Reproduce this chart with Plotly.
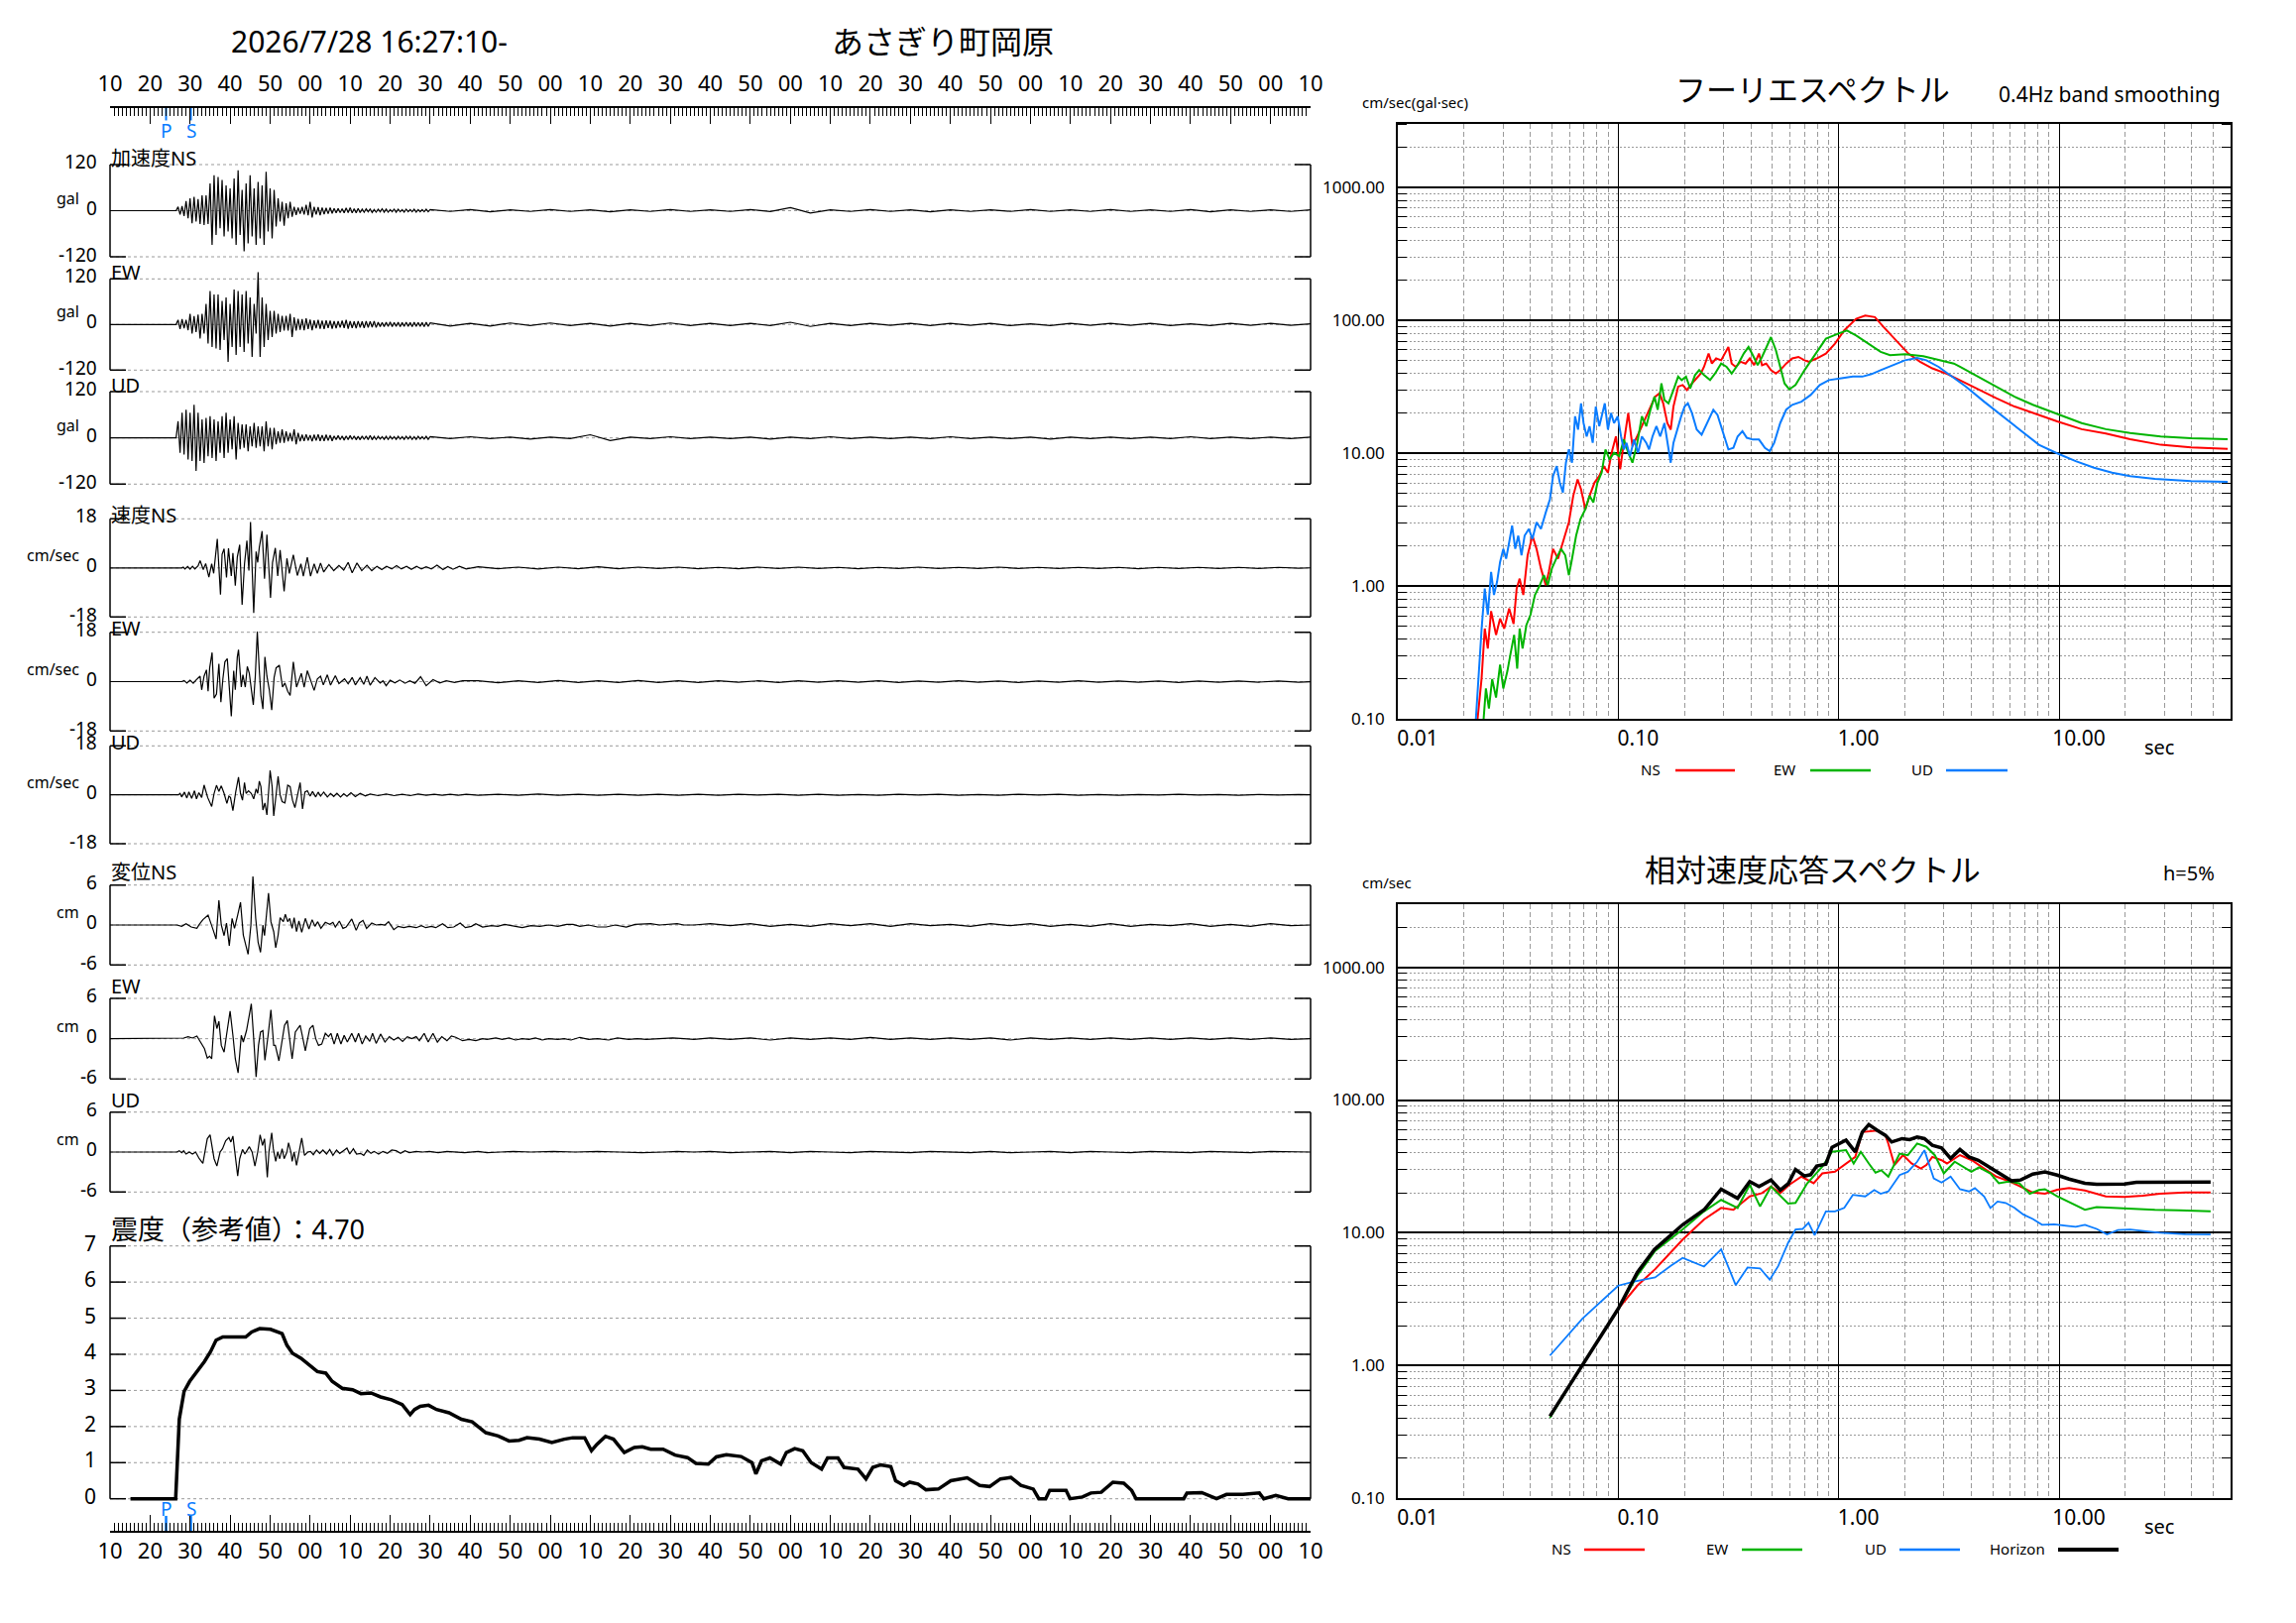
import plotly.graph_objects as go

W, H = 2316, 1637
FONT = "Noto Sans, Noto Sans CJK JP, sans-serif"

# ------------------------------------------------------------------ data
TITLE_TIME = "2026/7/28 16:27:10-"
STATION = "あさぎり町岡原"
START_SECOND = 10          # record starts at 16:27:10
RECORD_LENGTH = 300        # seconds shown
P_TIME = 14.0
S_TIME = 20.2
INTENSITY_VALUE = 4.70

# acceleration (gal): per-second positive / negative peaks from t = ACC_T0
ACC_T0 = 17
ACC_NS_HI = [10, 12, 25, 32, 36, 30, 40, 40, 71, 92, 88, 80, 66, 58, 84, 105, 54, 71, 92, 58, 75, 66, 101, 58, 54,
             32, 23, 19, 23, 10, 8, 10, 15, 23, 10, 9, 8, 7, 8, 6, 6, 5, 7, 8, 5, 6,
             4, 5, 4, 3, 4, 5, 4, 3, 4, 4, 3, 4, 3, 4, 3, 3, 4]
ACC_NS_LO = [-10, -14, -20, -33, -28, -35, -37, -35, -89, -63, -46, -67, -54, -72, -89, -63, -106, -85, -67, -89, -72,
             -89, -54, -72, -41, -28, -39, -20, -16, -11, -8, -10, -12, -18, -10, -12, -9, -8, -7, -6, -5, -6, -5, -6,
             -6, -5, -4, -3, -5, -4, -3, -4, -4, -3, -4, -3, -4, -3, -3, -4, -3, -3, -3]
ACC_EW_HI = [12, 14, 12, 28, 22, 26, 28, 54, 88, 79, 79, 62, 71, 54, 92, 88, 79, 88, 71, 54, 138, 71, 54, 36, 36,
             28, 23, 23, 28, 19, 15, 14, 16, 13, 11, 12, 10, 11, 10, 9, 9, 10, 12, 9, 8, 9, 8, 9, 8, 9,
             6, 5, 6, 7, 5, 6, 5, 6, 5, 6, 5, 5, 6]
ACC_EW_LO = [-12, -10, -15, -24, -20, -37, -24, -50, -59, -63, -67, -41, -98, -59, -80, -59, -72, -50, -85, -24, -85,
             -59, -41, -33, -24, -20, -16, -16, -33, -16, -14, -15, -12, -15, -10, -11, -12, -9, -11, -10, -8, -9,
             -11, -9, -10, -8, -9, -8, -7, -8, -6, -6, -5, -6, -5, -6, -5, -5, -6, -5, -5, -6, -5]
ACC_UD_HI = [43, 65, 73, 65, 86, 65, 48, 52, 56, 48, 43, 56, 65, 48, 56, 39, 35, 35, 30, 39, 30, 30, 43, 26, 26,
             17, 22, 17, 13, 22, 13, 8, 9, 7, 8, 9, 7, 8, 7, 5, 6, 5, 5, 6, 5, 4, 5, 5, 6,
             4, 4, 3, 4, 4, 3, 4, 3, 4, 4, 3, 4, 3, 4]
ACC_UD_LO = [-39, -43, -56, -60, -86, -60, -65, -48, -52, -60, -39, -52, -39, -30, -56, -30, -26, -35, -22, -26, -22,
             -35, -22, -30, -17, -13, -13, -9, -9, -17, -9, -8, -7, -9, -7, -8, -8, -7, -8, -5, -5, -6, -5, -4, -5,
             -5, -4, -5, -5, -4, -3, -4, -4, -3, -4, -3, -4, -3, -4, -4, -3, -3, -4]
# tail samples every 5 s from t = 80
ACC_TAIL_T0, ACC_TAIL_STEP = 80, 5
ACC_NS_TAIL = [3, -2, 3, -3, 2, -2, 3, -2, 2, -3, 2, -2, 3, -2, 2, -2, 3, -2, 8, -6, 2, -2, 3, -2, 2,
               -3, 2, -2, 2, -2, 3, -2, 2, -2, 3, -2, 2, -2, 3, -3, 2, -2, 2, -2, 2]
ACC_EW_TAIL = [4, -4, 3, -4, 4, -3, 4, -3, 3, -4, 3, -3, 4, -3, 3, -3, 3, -3, 6, -5, 3, -3, 3, -2, 3,
               -3, 3, -2, 3, -3, 2, -3, 3, -2, 3, -2, 3, -3, 2, -3, 3, -2, 3, -2, 2]
ACC_UD_TAIL = [3, -2, 3, -2, 2, -3, 2, -2, 8, -7, 2, -2, 3, -2, 2, -2, 2, -3, 2, -2, 3, -2, 2, -2, 2,
               -2, 3, -2, 2, -2, 2, -3, 2, -2, 2, -2, 2, -2, 3, -2, 2, -2, 2, -2, 2]

# velocity (cm/sec): (time, value) turning points, then tail every 5 s from t = 92
VEL_NS = [(0, 0), (17.9, 0), (18.3, 0.3), (18.7, -0.4), (19.4, 0.5), (20.0, -0.5), (20.6, 0.6), (21.2, -0.4),
          (22.0, 0.8), (22.5, 2.7), (23.3, -0.6), (23.9, 1.6), (24.7, -3.4), (25.4, 1.5), (25.9, -2.0),
          (26.8, 10.6), (27.6, -9.8), (28.0, 5.0), (28.5, 7.0), (29.1, -3.5), (29.6, 7.2), (30.3, -3.0),
          (30.7, 5.5), (31.3, -6.5), (31.8, 4.0), (32.4, 8.5), (33.0, -13.5), (33.6, 1.5), (34.2, 10.0),
          (34.7, -1.0), (35.1, 16.8), (35.9, -16.5), (36.5, 6.0), (36.9, 2.0), (37.3, 7.5), (38.0, 13.5),
          (38.6, -4.0), (39.2, 12.2), (40.1, -11.0), (40.6, 2.0), (41.3, 7.3), (41.9, -3.0), (42.5, 6.5),
          (43.5, -8.6), (44.2, 3.5), (44.8, -2.0), (45.8, 4.8), (46.8, -2.8), (47.7, 1.5), (48.3, -3.0),
          (49.3, 3.9), (50.1, -3.0), (51.0, 1.5), (51.8, -2.0), (52.6, 1.8), (53.4, -1.5), (54.7, 1.2),
          (55.9, -1.0), (57.2, 0.9), (58.4, -0.8), (59.5, 2.0), (60.5, -1.8), (61.7, 1.8), (62.9, -1.0),
          (64.2, 1.0), (65.4, -1.0), (66.7, 0.6), (67.9, -0.6), (69.1, 0.6), (70.4, -0.4), (71.6, 0.8),
          (72.8, -0.4), (74.1, 0.6), (75.3, -0.5), (76.6, 0.6), (77.8, -0.4), (79.0, 0.4), (80.3, -0.4),
          (81.7, 1.0), (83.2, -0.6), (84.4, 0.5), (85.7, -0.5), (87.3, 0.6), (89.0, -0.4)]
VEL_EW = [(0, 0), (17.9, 0), (18.5, 0.4), (19.2, -0.5), (20.0, 0.5), (20.8, -0.6), (21.5, 0.6), (22.5, 2.0),
          (22.9, -3.0), (23.5, 2.0), (24.1, 4.3), (24.5, -3.5), (24.9, 5.0), (25.5, 10.6), (26.0, -6.0),
          (26.6, -4.5), (27.2, 6.5), (27.7, -7.5), (28.2, 1.0), (28.7, 7.2), (29.3, 8.4), (29.9, -4.0),
          (30.3, -12.6), (30.9, 4.0), (31.3, -3.0), (31.8, 9.0), (32.1, 11.6), (32.8, -2.0), (33.2, 2.5),
          (33.8, -2.0), (34.3, 5.5), (34.8, 3.0), (35.3, -3.0), (35.8, -8.5), (36.3, 2.0), (36.8, 18.2),
          (37.3, 4.0), (37.7, -5.0), (38.2, -10.0), (38.7, 9.0), (39.2, 2.0), (39.8, -3.0), (40.4, -10.4),
          (41.0, 1.5), (41.5, 5.0), (42.3, 6.0), (43.1, -2.0), (43.7, -0.5), (44.4, -3.5), (45.0, -5.0),
          (45.8, 7.2), (46.6, -2.0), (47.8, 3.0), (48.5, -2.0), (49.3, 4.0), (51.0, -3.2), (51.8, 1.0),
          (52.6, 2.0), (53.3, -1.2), (54.3, 2.5), (55.1, -1.3), (56.3, 2.2), (57.2, -0.7), (58.6, 1.0),
          (59.5, -0.8), (60.5, 1.5), (61.3, -1.2), (62.5, 1.5), (63.4, -1.0), (64.2, 2.0), (65.0, -1.3),
          (66.2, 1.5), (67.5, -0.5), (68.2, 0.3), (69.0, -1.5), (70.0, 0.5), (71.2, -0.5), (72.4, 0.6),
          (73.7, -0.6), (74.9, 0.3), (76.2, -0.6), (77.6, 1.8), (79.0, -1.5), (80.7, 0.7), (82.4, -0.5),
          (84.0, 0.3), (86.1, -0.3), (88.1, 0.3)]
VEL_UD = [(0, 0), (17.1, 0), (17.5, 0.5), (17.9, -0.8), (18.6, 1.0), (19.2, -1.2), (19.7, 1.1), (20.4, -1.3),
          (21.1, 1.5), (21.6, -1.5), (22.2, 0.8), (22.9, -1.0), (23.5, 3.6), (24.4, -1.0), (25.4, -4.3),
          (26.0, 0.5), (26.6, 3.5), (27.2, 1.2), (27.8, 3.3), (28.5, 0.5), (29.2, -3.2), (29.7, -0.5),
          (30.1, -1.0), (30.7, -5.8), (31.4, 1.0), (32.1, 6.5), (32.6, 0.5), (33.1, -2.0), (33.6, 4.5),
          (34.0, 0.5), (34.6, 1.5), (35.3, 0.5), (35.9, -1.5), (36.5, 2.2), (36.9, 0.5), (37.3, 5.0),
          (37.7, 3.0), (38.2, -5.6), (38.7, -3.0), (39.2, -7.4), (40.0, 9.0), (40.5, 3.0), (40.9, -7.8),
          (41.5, 0.0), (42.0, 6.8), (42.5, 0.0), (43.0, -2.5), (43.7, -3.0), (44.4, 3.5), (45.0, 3.0),
          (45.6, -2.0), (46.2, -4.7), (46.8, 0.2), (47.5, 4.5), (48.1, -5.2), (48.7, 1.0), (49.3, 1.5),
          (50.0, -0.5), (50.6, 1.2), (51.4, -0.8), (52.0, 1.0), (52.6, -0.5), (53.4, 1.0), (54.3, -0.8),
          (55.1, 0.5), (55.9, -0.6), (56.7, 0.6), (57.6, -0.8), (58.4, 0.4), (59.2, -0.6), (60.2, 0.8),
          (61.3, -0.7), (62.5, 0.5), (63.8, -0.4), (65.0, 0.3), (67, -0.3), (69, 0.3), (71, -0.3), (73, 0.2),
          (75, -0.3), (77, 0.3), (79, -0.2), (81, 0.2), (83, -0.2), (85, 0.2), (87, -0.2), (89, 0.2)]
VEL_TAIL_T0, VEL_TAIL_STEP = 92, 5
VEL_NS_TAIL = [0.4, -0.3, 0.3, -0.4, 0.3, -0.3, 0.4, -0.3, 0.3, -0.2, 0.3, -0.3, 0.2, -0.3, 0.3, -0.2, 0.3, -0.2,
               0.2, -0.3, 0.2, -0.2, 0.3, -0.2, 0.2, -0.2, 0.3, -0.2, 0.2, -0.2, 0.2, -0.2, 0.2, -0.3, 0.2, -0.2,
               0.2, -0.2, 0.2, -0.2, 0.2, -0.1, 0.1]
VEL_EW_TAIL = [0.3, -0.4, 0.3, -0.3, 0.4, -0.3, 0.3, -0.3, 0.4, -0.3, 0.3, -0.3, 0.3, -0.2, 0.3, -0.3, 0.3, -0.2,
               0.3, -0.2, 0.3, -0.3, 0.2, -0.2, 0.3, -0.2, 0.2, -0.3, 0.2, -0.2, 0.3, -0.2, 0.2, -0.2, 0.2, -0.3,
               0.2, -0.2, 0.2, -0.2, 0.2, -0.2, 0.1]
VEL_UD_TAIL = [-0.2, 0.2, -0.2, 0.3, -0.2, 0.2, -0.2, 0.2, -0.2, 0.2, -0.2, 0.2, -0.2, 0.2, -0.1, 0.2, -0.2, 0.2,
               -0.2, 0.1, -0.2, 0.2, -0.1, 0.2, -0.2, 0.1, -0.2, 0.2, -0.1, 0.2, -0.2, 0.1, -0.2, 0.1, -0.1, 0.2,
               -0.1, 0.1, -0.2, 0.1, -0.1, 0.1, -0.1]

# displacement (cm): turning points, then tail every 5 s from t = 150
DISP_NS = [(0, 0), (16.7, 0), (17.9, -0.2), (19.0, 0.2), (20.3, -0.3), (21.7, -0.5), (22.3, 0.1), (23.2, 0.8),
           (24.5, 1.5), (25.0, 0.5), (25.8, -0.8), (26.5, -2.1), (27.2, 3.7), (27.8, 0.0), (28.5, -1.6),
           (29.1, 0.3), (29.8, -3.1), (30.5, 1.0), (31.1, -0.5), (31.9, 1.5), (32.6, 3.4), (33.3, -1.5),
           (34.0, -3.0), (34.5, -4.4), (35.2, 0.0), (35.7, 7.3), (36.4, 1.0), (37.0, -2.6), (37.6, -4.1),
           (38.2, 0.0), (38.6, -1.6), (39.6, 4.8), (40.2, 0.5), (40.9, -1.0), (41.4, -3.4), (42.0, -1.5),
           (42.5, 1.1), (43.3, 0.5), (43.8, 1.6), (44.4, 0.5), (44.9, 1.0), (45.5, -0.5), (46.0, 1.1),
           (46.6, -1.0), (47.2, 0.6), (47.9, -1.1), (48.8, 1.0), (49.7, -0.6), (50.5, 0.8), (51.2, -0.2),
           (51.9, 0.5), (52.7, -0.5), (53.8, 0.4), (54.9, 0.1), (55.7, 0.4), (56.3, -0.3), (57.3, 0.6),
           (58.2, -0.5), (59.0, -0.3), (60.4, 0.9), (61.5, -0.8), (62.3, 0.3), (63.2, 0.7), (64.1, -0.5),
           (65.4, 0.3), (66.5, 0.0), (67.6, 0.1), (68.7, 0.0), (69.6, 0.5), (70.9, -0.7), (72.0, -0.2),
           (73.4, -0.4), (74.8, -0.2), (76.5, -0.4), (77.8, -0.1), (78.9, -0.4), (80.3, -0.2), (81.4, -0.4),
           (83.1, 0.2), (84.4, -0.4), (85.9, -0.3), (87.5, 0.3), (88.8, -0.4), (90.3, -0.2), (91.4, 0.2),
           (93.1, -0.3), (95.3, -0.1), (96.9, -0.2), (98.6, 0.1), (100.2, -0.1), (103.0, -0.4), (105.2, -0.1),
           (107.4, -0.2), (109.6, 0.0), (111.9, -0.2), (114.1, 0.1), (115.7, 0.1), (117.4, -0.2), (119.6, 0.0),
           (121.8, -0.3), (124.0, -0.3), (126.2, 0.0), (129.0, -0.3), (131.2, 0.1), (133.4, 0.1), (135.1, 0.2),
           (137.3, 0.0), (138.9, 0.1), (141.7, 0.2), (143.4, 0.0), (145.9, 0.0)]
DISP_EW = [(0, 0), (17.0, 0), (18.4, 0.1), (19.5, 0.3), (20.6, 0.1), (21.7, 0.4), (22.8, -0.7), (23.6, -1.5),
           (24.3, -2.9), (24.9, -2.6), (25.4, -3.0), (26.1, 3.4), (26.7, 1.5), (27.2, 2.6), (27.8, -1.0),
           (28.5, -2.0), (29.1, 0.5), (30.0, 4.1), (30.7, 0.5), (31.3, -3.0), (32.0, -5.1), (32.8, 0.5),
           (33.3, -0.5), (34.1, 1.2), (34.8, 3.5), (35.3, 5.2), (35.9, 0.0), (36.5, -5.7), (37.1, -1.0),
           (37.6, 1.0), (38.2, 1.2), (38.7, -3.2), (39.5, 0.5), (40.2, 4.3), (40.9, -1.0), (41.3, -1.0),
           (42.2, -3.3), (43.0, 0.0), (43.6, 2.0), (44.3, 2.7), (44.9, -0.5), (45.5, -3.0), (46.3, 1.0),
           (46.8, 1.5), (47.5, 2.0), (48.2, 0.0), (48.8, -1.8), (49.9, 1.5), (50.7, 2.0), (51.4, 0.0),
           (52.1, -1.0), (52.9, -0.8), (53.8, 0.8), (54.6, 0.3), (55.2, 0.8), (56.0, -0.8), (56.8, 0.8),
           (57.7, -0.8), (58.5, 0.5), (59.3, -0.5), (60.4, 0.8), (61.3, -0.5), (62.1, 0.8), (63.0, -0.8),
           (63.9, 0.4), (64.9, -0.4), (65.6, 0.8), (66.5, -0.7), (67.6, 0.7), (68.7, -0.5), (69.8, 0.3),
           (70.9, -0.2), (72.0, 0.2), (73.1, -0.4), (74.3, 0.3), (75.4, 0.0), (76.5, 0.3), (77.3, -0.3),
           (78.5, 0.8), (79.5, -0.5), (80.7, 0.8), (81.8, -0.5), (82.9, 0.3), (84.2, -0.3), (85.3, 0.4),
           (86.4, 0.2), (88.1, -0.3), (89.7, -0.1), (91.4, -0.3), (93.1, 0.0), (94.2, -0.1), (96.4, 0.1),
           (98.0, -0.1), (99.7, 0.1), (101.3, -0.2), (103.0, 0.0), (104.7, -0.1), (106.3, 0.1), (108.0, -0.2),
           (109.6, 0.0), (111.9, -0.1), (113.5, 0.0), (115.2, -0.2), (117.4, 0.2), (119.6, -0.1), (121.8, 0.0),
           (124.6, -0.2), (126.8, 0.1), (129.6, -0.1), (131.8, 0.0), (134.0, -0.1), (137.3, 0.0), (140.6, 0.1),
           (143.4, 0.0), (145.9, -0.1)]
DISP_UD = [(0, 0), (16.7, 0), (17.3, 0.2), (17.9, -0.1), (18.4, 0.2), (19.0, -0.3), (19.8, 0.0), (20.6, -0.3),
           (21.4, 0.0), (22.3, -1.0), (23.2, -1.7), (23.7, 0.0), (24.3, 2.0), (25.0, 2.6), (25.6, 0.5),
           (26.0, -1.0), (26.7, -2.1), (27.5, 0.0), (28.1, 0.5), (28.9, 1.7), (29.7, 2.2), (30.2, 1.5),
           (30.7, 2.4), (31.2, 0.0), (31.9, -3.6), (32.4, -1.0), (33.1, 0.4), (33.7, -0.3), (34.2, 0.3),
           (34.8, 0.8), (35.5, 0.0), (36.2, -2.1), (36.9, 0.0), (37.5, 2.6), (38.1, 1.0), (38.6, 2.0),
           (39.3, -3.8), (39.7, 0.0), (40.4, 2.9), (40.8, 0.5), (41.4, -1.4), (41.9, 0.0), (42.4, -1.0),
           (43.0, 0.5), (43.5, -1.0), (44.2, 0.0), (44.6, 1.4), (45.2, 0.0), (45.5, -1.4), (46.0, 0.0),
           (46.6, -2.0), (47.3, 0.5), (47.9, 2.1), (48.6, -0.5), (49.4, 0.0), (50.1, 0.1), (50.8, -0.4),
           (51.6, 0.3), (52.4, -0.2), (53.2, 0.3), (54.1, -0.3), (54.9, 0.4), (55.7, -0.5), (56.6, 0.3),
           (57.4, -0.2), (58.3, 0.2), (59.2, 0.6), (59.9, -0.3), (60.8, 0.5), (61.6, -0.3), (62.6, -0.2),
           (63.4, -0.5), (64.3, 0.3), (65.2, -0.2), (66.0, 0.1), (67.1, -0.3), (68.2, 0.1), (69.3, -0.2),
           (70.4, 0.3), (71.5, 0.2), (72.6, -0.2), (73.7, 0.2), (74.8, -0.1), (76.5, 0.1), (78.1, 0.0),
           (79.8, 0.1), (82.0, -0.1), (84.2, 0.1), (86.4, 0.0), (88.6, -0.1), (92.0, 0.1), (94.2, -0.1),
           (97.5, 0.0), (100.8, 0.1), (105.2, 0.0), (110.8, 0.1), (116.3, 0.0), (121.8, 0.1), (127.3, 0.0),
           (132.9, -0.1), (138.4, 0.0), (141.7, 0.1), (145.9, 0.0)]
DISP_TAIL_T0, DISP_TAIL_STEP = 150, 5
DISP_NS_TAIL = [0.2, -0.1, 0.2, -0.2, 0.1, -0.2, 0.2, -0.1, 0.2, -0.2, 0.2, -0.1, 0.1, -0.2, 0.2, -0.1, 0.2, -0.2,
                0.1, -0.2, 0.2, -0.2, 0.1, -0.1, 0.2, -0.2, 0.1, -0.2, 0.2, -0.1, 0.0]
DISP_EW_TAIL = [0.1, -0.1, 0.1, -0.2, 0.1, -0.1, 0.1, -0.1, 0.2, -0.1, 0.1, -0.1, 0.1, -0.1, 0.1, -0.2, 0.1, -0.1,
                0.1, -0.1, 0.1, -0.1, 0.1, -0.1, 0.1, -0.1, 0.1, -0.1, 0.1, -0.1, 0.0]
DISP_UD_TAIL = [0.1, -0.1, 0.0, 0.1, -0.1, 0.1, 0.0, -0.1, 0.1, 0.0, -0.1, 0.1, 0.0, -0.1, 0.1, -0.1, 0.0, 0.1,
                -0.1, 0.1, 0.0, -0.1, 0.1, 0.0, -0.1, 0.1, 0.0, -0.1, 0.1, 0.0, 0.0]

# seismic intensity (reference value) over time
INTENSITY = [(5.1, 0), (16.4, 0), (17.3, 2.2), (18.5, 2.97), (19.9, 3.25), (22.0, 3.57), (23.6, 3.8), (25.1, 4.07),
             (26.5, 4.39), (28.2, 4.48), (30.2, 4.48), (33.9, 4.48), (35.4, 4.62), (37.4, 4.71), (40.1, 4.69),
             (43.0, 4.57), (44.2, 4.25), (45.6, 4.03), (47.7, 3.89), (49.7, 3.7), (51.8, 3.52), (53.9, 3.48),
             (55.5, 3.25), (58.0, 3.06), (60.6, 3.02), (62.7, 2.91), (65.2, 2.93), (67.6, 2.82), (70.3, 2.74),
             (73.0, 2.61), (75.0, 2.33), (76.1, 2.47), (77.5, 2.56), (79.6, 2.59), (81.6, 2.47), (84.7, 2.38),
             (87.8, 2.2), (90.5, 2.13), (92.3, 1.97), (93.9, 1.83), (97.0, 1.74), (99.7, 1.6), (102.2, 1.62),
             (104.2, 1.69), (107.3, 1.65), (110.4, 1.56), (113.5, 1.65), (115.6, 1.69), (118.6, 1.69),
             (120.3, 1.33), (121.7, 1.51), (123.8, 1.73), (125.8, 1.65), (128.5, 1.28), (131.0, 1.42),
             (133.0, 1.44), (135.1, 1.37), (138.2, 1.37), (141.2, 1.21), (144.3, 1.14), (146.4, 0.98),
             (149.5, 0.96), (151.5, 1.16), (154.0, 1.22), (157.7, 1.17), (160.4, 1.0), (161.4, 0.69),
             (162.8, 1.05), (164.9, 1.13), (167.6, 0.96), (169.0, 1.28), (171.1, 1.39), (173.1, 1.33),
             (175.2, 1.0), (177.8, 0.82), (179.3, 1.13), (181.9, 1.13), (183.4, 0.87), (186.9, 0.82),
             (188.9, 0.55), (190.6, 0.87), (192.6, 0.94), (195.1, 0.89), (196.3, 0.5), (198.4, 0.37),
             (199.8, 0.46), (201.9, 0.41), (203.9, 0.25), (207.0, 0.27), (210.1, 0.5), (214.2, 0.58),
             (217.3, 0.37), (219.8, 0.34), (222.5, 0.55), (225.1, 0.59), (227.6, 0.37), (230.7, 0.27),
             (232.1, 0), (233.8, 0), (234.8, 0.23), (238.9, 0.23), (239.9, 0), (243.0, 0.05), (245.1, 0.16),
             (247.7, 0.18), (250.6, 0.46), (253.3, 0.43), (255.3, 0.23), (256.4, 0), (268.3, 0), (269.1, 0.16),
             (272.8, 0.17), (276.5, 0), (279.0, 0.12), (283.1, 0.12), (287.2, 0.16), (288.3, 0), (291.3, 0.09),
             (294.4, 0), (300, 0)]

# Fourier spectra (period sec, cm/sec)
FOURIER_NS = [(0.023, 0.1), (0.024, 0.204), (0.0248, 0.48), (0.0256, 0.34), (0.0265, 0.65), (0.0279, 0.43),
              (0.0291, 0.57), (0.0304, 0.48), (0.032, 0.68), (0.0335, 0.52), (0.0346, 0.96), (0.0357, 1.14),
              (0.0371, 0.86), (0.0388, 1.71), (0.0408, 2.4), (0.0426, 1.91), (0.0446, 1.36), (0.0469, 1.02),
              (0.0484, 1.28), (0.0506, 1.91), (0.0533, 1.61), (0.0561, 2.14), (0.0597, 3.03), (0.0625, 4.79),
              (0.0654, 6.37), (0.0678, 5.37), (0.0709, 3.8), (0.0741, 4.79), (0.078, 6.02), (0.082, 6.76),
              (0.0859, 8.02), (0.0898, 7.15), (0.0933, 10.1), (0.0976, 13.4), (0.102, 7.57), (0.106, 12),
              (0.111, 20.1), (0.116, 11.3), (0.122, 13.4), (0.128, 16), (0.134, 19), (0.14, 22.5), (0.147, 26.7),
              (0.154, 28.3), (0.16, 23.8), (0.167, 16.9), (0.173, 15.1), (0.178, 22.5), (0.187, 31.8),
              (0.196, 32.7), (0.205, 30), (0.216, 33.6), (0.227, 36.7), (0.237, 39.9), (0.245, 44.8),
              (0.257, 56.4), (0.266, 47.4), (0.278, 51.8), (0.293, 50.2), (0.304, 56.4), (0.316, 63.2),
              (0.327, 47.4), (0.341, 44.8), (0.359, 48.9), (0.378, 47.4), (0.395, 51.8), (0.413, 46.1),
              (0.435, 56.4), (0.449, 46.1), (0.469, 47.4), (0.493, 42.3), (0.519, 39.9), (0.543, 42.3),
              (0.578, 47.4), (0.616, 51.8), (0.657, 53.2), (0.7, 50.2), (0.732, 48.9), (0.795, 51.8),
              (0.875, 56.4), (0.962, 67), (1.06, 84.2), (1.2, 102.9), (1.32, 109), (1.46, 106), (1.6, 89.2),
              (1.82, 70.8), (2.07, 56.4), (2.34, 48.9), (2.66, 43.6), (3.12, 39.5), (3.66, 34.6), (4.3, 30),
              (5.19, 26), (6.28, 22.5), (7.6, 20.1), (9.8, 17.4), (12.65, 15.2), (16.3, 14.1), (21, 12.8),
              (28.9, 11.6), (39.7, 11.1), (58.2, 10.8)]
FOURIER_EW = [(0.0245, 0.1), (0.0251, 0.17), (0.0259, 0.12), (0.0268, 0.2), (0.0279, 0.145), (0.0291, 0.257),
              (0.0301, 0.17), (0.0314, 0.229), (0.0324, 0.305), (0.0337, 0.43), (0.0348, 0.24), (0.0357, 0.48),
              (0.0368, 0.34), (0.0383, 0.51), (0.04, 0.61), (0.0419, 0.86), (0.0441, 1.02), (0.046, 1.21),
              (0.0479, 1.02), (0.05, 1.36), (0.0523, 1.61), (0.055, 1.91), (0.0575, 1.71), (0.0597, 1.21),
              (0.0613, 1.51), (0.0644, 2.4), (0.0674, 3.2), (0.0709, 3.8), (0.0741, 4.79), (0.0771, 4.27),
              (0.0805, 6.02), (0.0841, 7.15), (0.0875, 10.7), (0.0914, 9), (0.0957, 10.1), (0.101, 9.5),
              (0.106, 12.7), (0.111, 10.1), (0.116, 8.5), (0.122, 12), (0.128, 19), (0.134, 16), (0.14, 21.3),
              (0.146, 26.7), (0.151, 21.3), (0.157, 33.6), (0.162, 25.2), (0.169, 23.8), (0.178, 30),
              (0.187, 37.8), (0.194, 35.6), (0.203, 37.8), (0.212, 30.8), (0.223, 38.8), (0.233, 42.3),
              (0.245, 38.8), (0.261, 35.6), (0.275, 39.9), (0.293, 47.4), (0.31, 44.8), (0.327, 39.9),
              (0.348, 46.1), (0.371, 56.4), (0.39, 63.2), (0.408, 54.8), (0.429, 46.1), (0.449, 53.2),
              (0.469, 63.2), (0.493, 75), (0.519, 59.7), (0.543, 44.8), (0.568, 33.6), (0.597, 30.3),
              (0.637, 32.7), (0.7, 42.3), (0.77, 53.2), (0.875, 72.9), (0.993, 79.4), (1.09, 84.2), (1.2, 77.2),
              (1.37, 67), (1.55, 58), (1.71, 54.8), (2.0, 55.7), (2.42, 53.8), (2.84, 50.8), (3.33, 47.4),
              (3.55, 44.8), (4.16, 38.8), (5.03, 32.7), (6.28, 26.7), (7.6, 23.2), (9.8, 19.9), (12.65, 16.9),
              (16.3, 15.2), (21, 14.2), (28.9, 13.4), (39.7, 13), (58.2, 12.8)]
FOURIER_UD = [(0.0226, 0.1), (0.0233, 0.243), (0.024, 0.48), (0.0248, 0.96), (0.0256, 0.61), (0.0265, 1.28),
              (0.0273, 0.86), (0.0282, 1.08), (0.0291, 1.52), (0.0301, 1.91), (0.031, 1.61), (0.032, 2.14),
              (0.033, 2.86), (0.0341, 1.91), (0.0352, 2.4), (0.0364, 1.71), (0.0376, 2.4), (0.0393, 2.7),
              (0.0408, 2.27), (0.0426, 3.03), (0.0446, 2.7), (0.0469, 3.59), (0.049, 4.52), (0.0506, 6.74),
              (0.0526, 8.02), (0.0543, 6.02), (0.0561, 5.07), (0.0579, 8.5), (0.0597, 10.7), (0.0617, 8.5),
              (0.0637, 19), (0.0657, 15.1), (0.0678, 23.8), (0.0696, 16.9), (0.0719, 13.4), (0.0741, 16),
              (0.0766, 12), (0.0791, 22.5), (0.082, 16), (0.0841, 19), (0.0869, 23.8), (0.0898, 15.1),
              (0.0927, 20.1), (0.0957, 16.9), (0.0994, 19), (0.103, 13.4), (0.106, 10.7), (0.109, 12),
              (0.113, 9.5), (0.118, 12.7), (0.123, 10.1), (0.128, 13.4), (0.134, 12), (0.138, 10.7),
              (0.143, 13.4), (0.149, 16), (0.155, 13.4), (0.162, 16.9), (0.167, 12.7), (0.173, 8.5), (0.178, 12),
              (0.185, 15.1), (0.193, 19), (0.2, 22.5), (0.207, 23.8), (0.216, 20.1), (0.227, 15.1), (0.239, 13.8),
              (0.253, 16.9), (0.27, 21.3), (0.282, 19.5), (0.297, 15.1), (0.316, 10.7), (0.333, 11),
              (0.348, 13.4), (0.366, 14.7), (0.383, 13.1), (0.408, 12.7), (0.435, 12.7), (0.463, 11),
              (0.487, 10.4), (0.51, 12), (0.543, 16.9), (0.578, 21.3), (0.616, 23.2), (0.678, 24.5),
              (0.746, 27.5), (0.821, 32.7), (0.903, 35.6), (1.03, 36.7), (1.16, 37.8), (1.28, 37.8),
              (1.41, 39.5), (1.55, 42.3), (1.76, 46.1), (2.0, 50.2), (2.27, 52.3), (2.5, 50.2), (2.84, 44.8),
              (3.22, 38.8), (3.78, 31.8), (4.57, 24.5), (5.53, 19), (6.7, 14.7), (8.1, 11.6), (9.8, 10),
              (11.9, 8.74), (14.4, 7.79), (17.4, 7.15), (21, 6.74), (27.2, 6.44), (39.7, 6.19), (58.2, 6.1)]

# relative velocity response spectra, h = 5% (period sec, cm/sec)
RESP_NS = [(0.049, 0.416), (0.0687, 1.01), (0.1, 2.68), (0.122, 4.0), (0.147, 5.32), (0.196, 8.9), (0.245, 12.6),
           (0.293, 15.4), (0.333, 14.9), (0.395, 18.8), (0.449, 19.9), (0.493, 22.3), (0.543, 19.9), (0.597, 23),
           (0.678, 26.5), (0.77, 23.6), (0.843, 28), (0.962, 28.9), (1.09, 33.3), (1.19, 37.3), (1.28, 57.4),
           (1.5, 59), (1.63, 54.2), (1.68, 47), (1.79, 32.4), (1.96, 38.5), (2.14, 33.3), (2.36, 30.5),
           (2.5, 32.4), (2.66, 37.3), (2.93, 35.2), (3.1, 33.3), (3.55, 38.5), (4.02, 35.2), (4.57, 30.5),
           (5.2, 26.5), (6.0, 24.3), (6.7, 22.3), (7.6, 20.1), (8.63, 19.7), (9.81, 21.1), (11.1, 21.7),
           (13.1, 20.8), (16.3, 18.8), (19.8, 18.6), (24, 19), (28.6, 19.7), (37.4, 20.1), (48.7, 20.1)]
RESP_EW = [(0.049, 0.405), (0.0687, 1.01), (0.1, 2.68), (0.122, 4.75), (0.147, 7.3), (0.196, 10.6), (0.245, 14.5),
           (0.293, 17.7), (0.348, 15.4), (0.395, 23), (0.44, 15.8), (0.493, 22.3), (0.59, 16.6), (0.637, 16.8),
           (0.72, 23.6), (0.843, 31.5), (0.933, 40.7), (1.08, 41.9), (1.17, 33.3), (1.26, 40.7), (1.37, 33.3),
           (1.47, 28.4), (1.56, 29.6), (1.68, 26.5), (1.89, 39.5), (2.06, 38.4), (2.27, 47), (2.5, 44.4),
           (2.73, 38.4), (3.0, 28), (3.36, 34.3), (3.65, 31.5), (4.0, 28.8), (4.33, 31.1), (4.88, 28),
           (5.33, 23.6), (5.9, 24.3), (6.6, 23.6), (7.36, 19.7), (8.1, 21), (8.63, 21.3), (9.81, 18.8),
           (11.5, 16.6), (13.1, 14.9), (14.8, 15.6), (17.4, 15.4), (21, 15.2), (27.2, 14.9), (35, 14.8),
           (48.7, 14.5)]
RESP_UD = [(0.049, 1.19), (0.0687, 2.25), (0.1, 4.0), (0.118, 4.29), (0.147, 4.61), (0.173, 5.64), (0.196, 6.47),
           (0.245, 5.57), (0.293, 7.51), (0.341, 4.04), (0.386, 5.48), (0.44, 5.4), (0.487, 4.44), (0.532, 5.63),
           (0.59, 8.42), (0.637, 10.6), (0.686, 10.7), (0.73, 11.9), (0.778, 9.6), (0.875, 14.5), (0.962, 14.5),
           (1.06, 15.4), (1.16, 19.3), (1.32, 18.8), (1.45, 21), (1.55, 19.7), (1.68, 20.5), (1.89, 27.2),
           (2.06, 28.8), (2.27, 34.3), (2.45, 41.9), (2.7, 25.7), (2.93, 23.9), (3.22, 26.5), (3.55, 21.3),
           (3.9, 20.5), (4.15, 21.7), (4.57, 18.8), (4.88, 15.4), (5.26, 17.2), (5.72, 16.8), (6.28, 15.4),
           (6.9, 13.7), (7.6, 12.7), (8.37, 11.5), (9.5, 11.6), (10.8, 11.3), (11.9, 11.1), (13.1, 11.5),
           (14.8, 10.7), (16.5, 9.72), (18.5, 10.5), (21, 10.6), (24, 10.3), (28.6, 10), (37.4, 9.77),
           (48.7, 9.72)]
RESP_HORIZON = [(0.049, 0.416), (0.0687, 1.01), (0.1, 2.68), (0.122, 5.03), (0.146, 7.5), (0.168, 9.18),
                (0.196, 11.5), (0.245, 14.9), (0.293, 21.3), (0.348, 18.2), (0.395, 24.3), (0.435, 22.3),
                (0.493, 25), (0.543, 21), (0.59, 23.4), (0.637, 30), (0.7, 26.8), (0.746, 27.4), (0.795, 31.8),
                (0.875, 32.9), (0.933, 44), (1.08, 49.8), (1.19, 40.7), (1.28, 57.4), (1.37, 65.4), (1.5, 59),
                (1.63, 54.2), (1.74, 48.3), (1.94, 51.2), (2.1, 50.4), (2.27, 52.6), (2.45, 51.2), (2.66, 45.6),
                (2.93, 43.6), (3.22, 36.3), (3.55, 42.4), (3.9, 37.3), (4.3, 35.2), (4.88, 30.9), (5.53, 26.8),
                (6.09, 24.6), (6.7, 25), (7.6, 27.7), (8.63, 28.7), (9.81, 27.2), (11.1, 25.4), (13.1, 23.6),
                (14.8, 23.2), (19.8, 23.3), (22.4, 24), (27.2, 24.1), (35, 24.1), (48.7, 24.1)]

# ------------------------------------------------------------------ helpers
RED, GREEN, BLUE = "#ff0000", "#00b400", "#0a7cff"
GRID = "#9a9a9a"


def X(px):
    return px / W


def Y(py):
    return 1 - py / H


def names(i):
    s = "" if i == 1 else str(i)
    return "x" + s, "y" + s, "xaxis" + s, "yaxis" + s


def unzip(pairs):
    return [p[0] for p in pairs], [p[1] for p in pairs]


def acc_series(hi, lo, tail):
    xs, ys = [0, ACC_T0 - 0.5], [0, 0]
    for i, (h, l) in enumerate(zip(hi, lo)):
        xs += [ACC_T0 + i, ACC_T0 + i + 0.5]
        ys += [h, l]
    for j, v in enumerate(tail):
        xs.append(ACC_TAIL_T0 + ACC_TAIL_STEP * j)
        ys.append(v)
    return xs, ys


def with_tail(pairs, t0, step, tail):
    xs, ys = unzip(pairs)
    xs = xs + [t0 + step * j for j in range(len(tail))]
    ys = ys + list(tail)
    return xs, ys


fig = go.Figure()
layout = dict(template="none", width=W, height=H, margin=dict(l=0, r=0, t=0, b=0, pad=0),
              paper_bgcolor="white", plot_bgcolor="rgba(0,0,0,0)", showlegend=False,
              font=dict(family=FONT, color="black"))
shapes, anns = [], []


def ann(text, x, y, size, xanchor="center", yanchor="middle", color="black", xref="paper", yref="paper",
        yshift=0, xshift=0):
    anns.append(dict(text=text, x=x, y=y, xref=xref, yref=yref, xanchor=xanchor, yanchor=yanchor,
                     showarrow=False, font=dict(size=size, color=color, family=FONT), yshift=yshift,
                     xshift=xshift, borderpad=0))


def hline(xa, ya, y, color, width, dash=None, x0=0, x1=1):
    line = dict(color=color, width=width)
    if dash:
        line["dash"] = dash
    shapes.append(dict(type="line", xref=xa + " domain", yref=ya, x0=x0, x1=x1, y0=y, y1=y, line=line,
                       layer="below"))


def vline(xa, ya, x, y0, y1, color="black", width=1.5):
    shapes.append(dict(type="line", xref=xa + " domain", yref=ya, x0=x, x1=x, y0=y0, y1=y1,
                       line=dict(color=color, width=width)))


LEFT, RIGHT = 111, 1322
XDOM = [X(LEFT), X(RIGHT)]
TK = 16 / (RIGHT - LEFT)

# ------------------------------------------------------------------ waveform panels
acc_ns = acc_series(ACC_NS_HI, ACC_NS_LO, ACC_NS_TAIL)
acc_ew = acc_series(ACC_EW_HI, ACC_EW_LO, ACC_EW_TAIL)
acc_ud = acc_series(ACC_UD_HI, ACC_UD_LO, ACC_UD_TAIL)
vel_ns = with_tail(VEL_NS, VEL_TAIL_T0, VEL_TAIL_STEP, VEL_NS_TAIL)
vel_ew = with_tail(VEL_EW, VEL_TAIL_T0, VEL_TAIL_STEP, VEL_EW_TAIL)
vel_ud = with_tail(VEL_UD, VEL_TAIL_T0, VEL_TAIL_STEP, VEL_UD_TAIL)
disp_ns = with_tail(DISP_NS, DISP_TAIL_T0, DISP_TAIL_STEP, DISP_NS_TAIL)
disp_ew = with_tail(DISP_EW, DISP_TAIL_T0, DISP_TAIL_STEP, DISP_EW_TAIL)
disp_ud = with_tail(DISP_UD, DISP_TAIL_T0, DISP_TAIL_STEP, DISP_UD_TAIL)

PANELS = [
    ("加速度NS", "gal", 120, acc_ns, 166.0, 259.0, 6.5),
    ("EW", "gal", 120, acc_ew, 281.3, 373.3, 7.0),
    ("UD", "gal", 120, acc_ud, 395.0, 488.3, 6.5),
    ("速度NS", "cm/sec", 18, vel_ns, 523.3, 622.3, 3.5),
    ("EW", "cm/sec", 18, vel_ew, 637.7, 737.3, 4.0),
    ("UD", "cm/sec", 18, vel_ud, 752.3, 851.0, 3.5),
    ("変位NS", "cm", 6, disp_ns, 892.7, 973.3, 13.5),
    ("EW", "cm", 6, disp_ew, 1007.0, 1088.3, 13.0),
    ("UD", "cm", 6, disp_ud, 1121.7, 1202.3, 12.5),
]
PAD = 1.3
for i, (title, unit, lim, (xs, ys), top, bot, toff) in enumerate(PANELS, start=1):
    xa, ya, xk, yk = names(i)
    c, h = (top + bot) / 2, (bot - top) / 2
    layout[xk] = dict(domain=XDOM, range=[0, RECORD_LENGTH], visible=False, anchor=ya, automargin=False)
    layout[yk] = dict(domain=[Y(c + PAD * h), Y(c - PAD * h)], range=[-PAD * lim, PAD * lim], visible=False,
                      anchor=xa, automargin=False)
    fig.add_trace(go.Scatter(x=xs, y=ys, mode="lines", line=dict(color="black", width=1.2),
                             xaxis=xa, yaxis=ya, hoverinfo="skip"))
    for yv in (lim, 0, -lim):
        hline(xa, ya, yv, GRID, 1, "dot")
    for xv, sgn in ((0, 1), (1, -1)):
        vline(xa, ya, xv, -lim, lim)
        for yv in (lim, -lim):
            shapes.append(dict(type="line", xref=xa + " domain", yref=ya, x0=xv, x1=xv + sgn * TK, y0=yv, y1=yv,
                               line=dict(color="black", width=1.5)))
    for yv, ysh in ((lim, 3), (0, 3), (-lim, 2)):
        ann(str(yv), X(99), yv, 19, xanchor="right", yref=ya, yshift=ysh)
    ann(unit, X(81), 0, 16, xanchor="right", yref=ya, yshift=13)
    ann(title, X(LEFT), Y(top - toff), 20, xanchor="left")

# ------------------------------------------------------------------ intensity panel
xa, ya, xk, yk = names(10)
I_TOP, I_BOT = 1256.7, 1511.7
unit_px = (I_BOT - I_TOP) / 7
layout[xk] = dict(domain=XDOM, range=[0, RECORD_LENGTH], visible=False, anchor=ya, automargin=False)
layout[yk] = dict(domain=[Y(I_BOT + 0.5 * unit_px), Y(I_TOP - 0.5 * unit_px)], range=[-0.5, 7.5],
                  visible=False, anchor=xa, automargin=False)
ix, iy = unzip(INTENSITY)
fig.add_trace(go.Scatter(x=ix, y=iy, mode="lines", line=dict(color="black", width=3.5), xaxis=xa, yaxis=ya,
                         hoverinfo="skip"))
for k in range(8):
    hline(xa, ya, k, GRID, 1, "dot")
    for xv, sgn in ((0, 1), (1, -1)):
        shapes.append(dict(type="line", xref=xa + " domain", yref=ya, x0=xv, x1=xv + sgn * TK, y0=k, y1=k,
                           line=dict(color="black", width=1.5)))
    ann(str(k), X(98), k, 21, xanchor="right", yref=ya, yshift=3)
for xv in (0, 1):
    vline(xa, ya, xv, 0, 7)
ann(f"震度（参考値）：{INTENSITY_VALUE:.2f}", X(LEFT), Y(1239), 27, xanchor="left")

# ------------------------------------------------------------------ time rulers
sec_labels = [f"{(START_SECOND + t) % 60:02d}" for t in range(0, RECORD_LENGTH + 1, 10)]
ruler_common = dict(domain=XDOM, range=[0, RECORD_LENGTH], tickmode="array",
                    tickvals=list(range(0, RECORD_LENGTH + 1, 10)), ticktext=sec_labels, ticks="inside",
                    ticklen=16, tickwidth=1, tickcolor="black", showline=True, linecolor="black", linewidth=2,
                    showgrid=False, zeroline=False, tickfont=dict(size=22), automargin=False,
                    minor=dict(tickmode="linear", tick0=0, dtick=1, ticks="inside", ticklen=8, tickwidth=1,
                               tickcolor="black"))
# top ruler
xa, ya, xk, yk = names(11)
layout[xk] = dict(ruler_common, side="top", anchor=ya, ticklabelstandoff=6)
layout[yk] = dict(domain=[Y(126), Y(109)], range=[0, 1], visible=False, anchor=xa, automargin=False)
fig.add_trace(go.Scatter(x=[P_TIME, S_TIME], y=[0.72, 0.72], mode="markers", xaxis=xa, yaxis=ya,
                         marker=dict(symbol="line-ns", size=11, line=dict(color=BLUE, width=2)), hoverinfo="skip"))
for t, lab in ((P_TIME, "P"), (S_TIME, "S")):
    ann(lab, t, Y(132), 19, color=BLUE, xref=xa)
# bottom ruler
xa, ya, xk, yk = names(12)
layout[xk] = dict(ruler_common, side="bottom", anchor=ya, ticklabelstandoff=0)
layout[yk] = dict(domain=[Y(1544), Y(1527)], range=[0, 1], visible=False, anchor=xa, automargin=False)
fig.add_trace(go.Scatter(x=[P_TIME, S_TIME], y=[0.35, 0.35], mode="markers", xaxis=xa, yaxis=ya,
                         marker=dict(symbol="line-ns", size=13, line=dict(color=BLUE, width=2.5)),
                         hoverinfo="skip"))
for t, lab in ((P_TIME, "P"), (S_TIME, "S")):
    ann(lab, t, Y(1522), 19, color=BLUE, xref=xa)

# ------------------------------------------------------------------ titles
ann(TITLE_TIME, X(372), Y(42), 30)
ann(STATION, X(951), Y(42), 32)

# ------------------------------------------------------------------ spectra
SX0, SX1 = 1410, 2250
x_minor = [k * 10 ** e for e in range(-2, 2) for k in range(2, 10)]
y_minor = [k * 10.0 ** e for e in range(-1, 4) for k in range(2, 10)]


def spectrum_axes(i, top, bot):
    xa, ya, xk, yk = names(i)
    layout[xk] = dict(domain=[X(SX0), X(SX1)], type="log", range=[-2, 1.778], anchor=ya, automargin=False,
                      tickmode="array", tickvals=[0.01, 0.1, 1, 10], ticktext=["0.01", "0.10", "1.00", "10.00"],
                      ticks="", showgrid=True, gridcolor="black", gridwidth=1, showline=True, linecolor="black",
                      linewidth=1.5, mirror=True, zeroline=False, tickfont=dict(size=21), ticklabelshift=20,
                      ticklabelstandoff=0,
                      minor=dict(tickmode="array", tickvals=x_minor, showgrid=True, gridcolor=GRID,
                                 griddash="5px,3px", gridwidth=1, ticks=""))
    layout[yk] = dict(domain=[Y(bot), Y(top)], type="log", range=[-1, 3.477], anchor=xa, automargin=False,
                      tickmode="array", tickvals=[0.1, 1, 10, 100, 1000],
                      ticktext=["0.10", "1.00", "10.00", "100.00", "1000.00"], ticks="", showgrid=True,
                      gridcolor="black", gridwidth=1.5, showline=True, linecolor="black", linewidth=1.5,
                      mirror="ticks", zeroline=False, tickfont=dict(size=17), ticklabelstandoff=8,
                      minor=dict(tickmode="array", tickvals=y_minor, showgrid=True, gridcolor=GRID,
                                 griddash="2px,2px", gridwidth=1, ticks="inside", ticklen=9, tickwidth=1,
                                 tickcolor="black"))
    return xa, ya


F_TOP, F_BOT = 125.3, 725.3
R_TOP, R_BOT = 911.7, 1511.3
fxa, fya = spectrum_axes(13, F_TOP, F_BOT)
rxa, rya = spectrum_axes(14, R_TOP, R_BOT)

for pairs, col in ((FOURIER_NS, RED), (FOURIER_EW, GREEN), (FOURIER_UD, BLUE)):
    px_, py_ = unzip(pairs)
    fig.add_trace(go.Scatter(x=px_, y=py_, mode="lines", line=dict(color=col, width=2), xaxis=fxa, yaxis=fya,
                             hoverinfo="skip"))
for pairs, col, wd in ((RESP_NS, RED, 2), (RESP_EW, GREEN, 2), (RESP_UD, BLUE, 1.8), (RESP_HORIZON, "black", 3.5)):
    px_, py_ = unzip(pairs)
    fig.add_trace(go.Scatter(x=px_, y=py_, mode="lines", line=dict(color=col, width=wd), xaxis=rxa, yaxis=rya,
                             hoverinfo="skip"))

# spectrum texts
ann("フーリエスペクトル", X(1828), Y(90), 31)
ann("0.4Hz band smoothing", X(2128), Y(95), 21)
ann("cm/sec(gal·sec)", X(1373), Y(103), 15, xanchor="left")
ann("sec", X(2178), Y(753), 20)
ann("相対速度応答スペクトル", X(1828), Y(877), 31)
ann("h=5%", X(2208), Y(881), 20)
ann("cm/sec", X(1373), Y(890), 15, xanchor="left")
ann("sec", X(2178), Y(1539), 20)


def legend_item(text, tx, ty, lx0, lx1, color, width):
    ann(text, X(tx), Y(ty), 15, xanchor="right")
    shapes.append(dict(type="line", xref="paper", yref="paper", x0=X(lx0), x1=X(lx1), y0=Y(ty + 1), y1=Y(ty + 1),
                       line=dict(color=color, width=width)))


legend_item("NS", 1676, 776, 1690, 1750, RED, 2.5)
legend_item("EW", 1812, 776, 1826, 1887, GREEN, 2.5)
legend_item("UD", 1951, 776, 1963, 2025, BLUE, 2.5)
legend_item("NS", 1586, 1562, 1598, 1659, RED, 2.5)
legend_item("EW", 1744, 1562, 1757, 1818, GREEN, 2.5)
legend_item("UD", 1904, 1562, 1916, 1977, BLUE, 2.5)
legend_item("Horizon", 2064, 1562, 2076, 2137, "black", 4)

layout["shapes"] = shapes
layout["annotations"] = anns
fig.update_layout(**layout)
fig.write_html("out.html", config={"displayModeBar": False},
               post_script="document.body.style.margin='0px';document.body.style.padding='0px';")
